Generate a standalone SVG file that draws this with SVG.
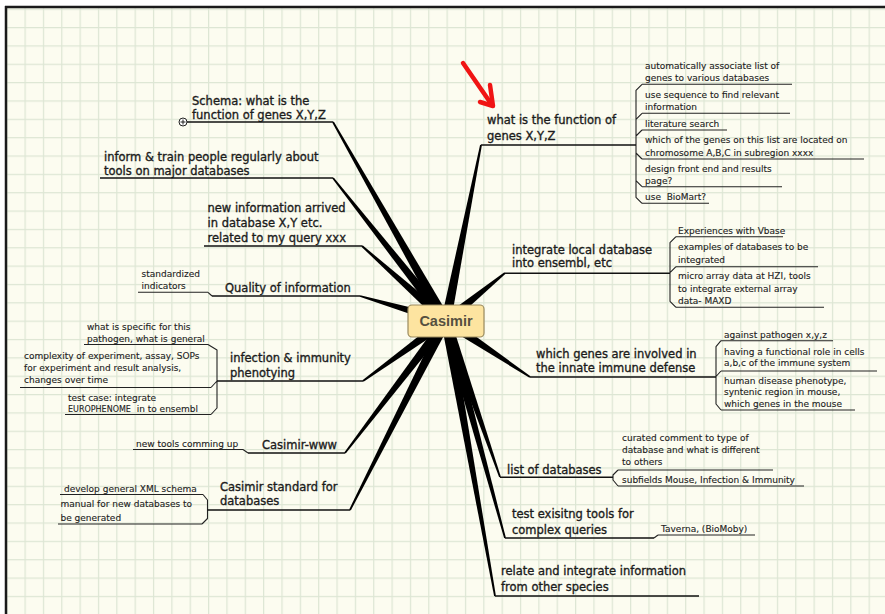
<svg xmlns="http://www.w3.org/2000/svg" width="885" height="614" viewBox="0 0 885 614">
<defs>
<pattern id="grid" patternUnits="userSpaceOnUse" x="24.5" y="27" width="18.35" height="18.35">
<rect x="0" y="0" width="18.35" height="18.35" fill="#fcfcf0"/>
<rect x="0" y="0" width="1.2" height="18.35" fill="#dde6d4"/>
<rect x="0" y="0" width="18.35" height="1.2" fill="#dde6d4"/>
</pattern>
<style>
.t{font-family:"DejaVu Sans",Verdana,sans-serif;font-size:11.5px;fill:#1c1c1c;stroke:#1c1c1c;stroke-width:0.35}
.s{font-family:"DejaVu Sans",Verdana,sans-serif;font-size:9px;fill:#222;stroke:#222;stroke-width:0.12}
.ul{stroke:#111;stroke-width:1.6;fill:none}
.sl{stroke:#222;stroke-width:1.1;fill:none}
.w{fill:#000}
.br{stroke:#222;stroke-width:1.1;fill:none;stroke-linejoin:round}
</style>
</defs>
<rect x="0" y="0" width="885" height="614" fill="#ffffff"/>
<rect x="6" y="7" width="879" height="607" fill="url(#grid)"/>
<line x1="5" y1="7" x2="885" y2="7" stroke="#1a1a1a" stroke-width="2.5"/>
<line x1="6" y1="6" x2="6" y2="614" stroke="#1a1a1a" stroke-width="2.5"/>

<g id="connectors">
<polygon class="w" points="450.35,318.53 333.78,121.56 332.22,122.44 441.65,323.47"/>
<polygon class="w" points="449.92,317.90 333.71,177.44 332.29,178.56 442.08,324.10"/>
<polygon class="w" points="449.33,317.27 362.60,245.33 361.40,246.67 442.67,324.73"/>
<polygon class="w" points="447.40,316.20 360.25,295.14 359.75,296.86 444.60,325.80"/>
<polygon class="w" points="443.07,316.95 362.47,380.27 363.53,381.73 448.93,325.05"/>
<polygon class="w" points="442.03,317.96 344.29,452.45 345.71,453.55 449.97,324.04"/>
<polygon class="w" points="441.54,318.74 349.20,509.59 350.80,510.41 450.46,323.26"/>
<polygon class="w" points="450.91,321.98 481.88,145.18 480.12,144.82 441.10,320.02"/>
<polygon class="w" points="449.16,324.88 505.57,273.70 504.43,272.30 442.84,317.12"/>
<polygon class="w" points="443.23,325.16 529.50,377.75 530.50,376.25 448.77,316.84"/>
<polygon class="w" points="441.28,322.64 499.15,477.29 500.85,476.71 450.72,319.36"/>
<polygon class="w" points="441.18,322.31 504.13,538.24 505.87,537.76 450.82,319.69"/>
<polygon class="w" points="441.08,321.88 494.11,596.16 495.89,595.84 450.92,320.12"/>
<path class="br" d="M642,84.3 L636,90.3 L636,197.3 L642,203.3 M636,119.3 L642,113.3 M636,136 L642,130 M636,153 L642,159 M636,180.7 L642,186.7"/>
<path class="br" d="M676,236.7 L670,242.7 L670,301.3 L676,307.3 M670,272.7 L676,266.7"/>
<path class="br" d="M721,340.7 L716,346.7 L716,404 L721,410 M716,376.5 L721,371"/>
<path class="br" d="M618,470 L613,475 L613,480 L618,486"/>
<path class="br" d="M208,344.5 L217,350 L217,408 L211,414.5 M211,387.5 L217,381"/>
<path class="br" d="M203,494.5 L207.5,500 L207.5,518.5 L202,524"/>
<path class="br" d="M208,292.3 L212,296"/>
<path class="br" d="M243,449.5 L248,453"/>
<path class="br" d="M654,538 L658,535"/>
</g>

<g id="arrow" stroke="#f01414" stroke-width="4.5" stroke-linecap="round" stroke-linejoin="round" fill="none">
<path d="M463,63 L492,105"/>
<path d="M490,85 L493,106 L480,102"/>
</g>

<g id="center">
<rect x="408" y="305" width="76" height="32" rx="4" fill="#fde4a0" stroke="#9a8a5e" stroke-width="1.2"/>
<text x="446" y="326" text-anchor="middle" font-family="'Liberation Sans',Arial,sans-serif" font-weight="bold" font-size="14.5" fill="#55503f">Casimir</text>
</g>

<g id="n-schema">
<text class="t" x="192" y="104.5">Schema: what is the</text>
<text class="t" x="192" y="118.5">function of genes X,Y,Z</text>
<line class="ul" x1="187" y1="122" x2="333" y2="122"/>
<circle cx="183" cy="122" r="4" fill="#fff" stroke="#222" stroke-width="1"/>
<path d="M180.5,122 H185.5 M183,119.5 V124.5" stroke="#222" stroke-width="1"/>
</g>

<g id="n-inform">
<text class="t" x="104" y="161">inform &amp; train people regularly about</text>
<text class="t" x="104" y="174.5">tools on major databases</text>
<line class="ul" x1="100" y1="178" x2="333" y2="178"/>
</g>

<g id="n-newinfo">
<text class="t" x="207.5" y="211.5">new information arrived</text>
<text class="t" x="207.5" y="226.5">in database X,Y etc.</text>
<text class="t" x="207.5" y="241.5">related to my query xxx</text>
<line class="ul" x1="204" y1="246" x2="362" y2="246"/>
</g>

<g id="n-quality">
<text class="t" x="225" y="291.5">Quality of information</text>
<line class="ul" x1="212" y1="296" x2="360" y2="296"/>
</g>
<g id="n-standardized">
<text class="s" x="141.5" y="277">standardized</text>
<text class="s" x="141.5" y="289">indicators</text>
<line class="sl" x1="138" y1="292.3" x2="208" y2="292.3"/>
</g>

<g id="n-infection">
<text class="t" x="230" y="362">infection &amp; immunity</text>
<text class="t" x="230" y="377">phenotying</text>
<line class="ul" x1="217" y1="381" x2="363" y2="381"/>
</g>
<g id="n-specific">
<text class="s" x="87" y="330">what is specific for this</text>
<text class="s" x="87" y="342">pathogen, what is general</text>
<line class="sl" x1="84" y1="344.5" x2="208" y2="344.5"/>
</g>
<g id="n-complexity">
<text class="s" x="24" y="359">complexity of experiment, assay, SOPs</text>
<text class="s" x="24" y="371">for experiment and result analysis,</text>
<text class="s" x="24" y="383">changes over time</text>
<line class="sl" x1="20" y1="387.5" x2="211" y2="387.5"/>
</g>
<g id="n-testcase">
<text class="s" x="68" y="400.5">test case: integrate</text>
<text class="s" x="68" y="412" style="white-space:pre"><tspan font-size="8">EUROPHENOME</tspan>  in to ensembl</text>
<line class="sl" x1="65" y1="414.5" x2="211" y2="414.5"/>
</g>

<g id="n-www">
<text class="t" x="262" y="448.5">Casimir-www</text>
<line class="ul" x1="248" y1="453" x2="345" y2="453"/>
</g>
<g id="n-newtools">
<text class="s" x="136" y="446.5">new tools comming up</text>
<line class="sl" x1="133" y1="449.5" x2="243" y2="449.5"/>
</g>

<g id="n-standard">
<text class="t" x="220" y="490.5">Casimir standard for</text>
<text class="t" x="220" y="505">databases</text>
<line class="ul" x1="207.5" y1="510" x2="350" y2="510"/>
</g>
<g id="n-xml">
<text class="s" x="64" y="491.5">develop general XML schema</text>
<line class="sl" x1="60" y1="494.5" x2="203" y2="494.5"/>
</g>
<g id="n-manual">
<text class="s" x="60.5" y="506.5">manual for new databases to</text>
<text class="s" x="60.5" y="520.5">be generated</text>
<line class="sl" x1="58" y1="524" x2="202" y2="524"/>
</g>

<g id="n-function">
<text class="t" x="487" y="124">what is the function of</text>
<text class="t" x="487" y="139.5">genes X,Y,Z</text>
<line class="ul" x1="481" y1="145" x2="636" y2="145"/>
</g>
<g id="n-auto">
<text class="s" x="645" y="69">automatically associate list of</text>
<text class="s" x="645" y="81.3">genes to various databases</text>
<line class="sl" x1="642" y1="84.3" x2="792" y2="84.3"/>
</g>
<g id="n-useseq">
<text class="s" x="645" y="97.7">use sequence to find relevant</text>
<text class="s" x="645" y="110">information</text>
<line class="sl" x1="642" y1="113.3" x2="790" y2="113.3"/>
</g>
<g id="n-lit">
<text class="s" x="645" y="126.5">literature search</text>
<line class="sl" x1="642" y1="130" x2="727" y2="130"/>
</g>
<g id="n-chrom">
<text class="s" x="645" y="143">which of the genes on this list are located on</text>
<text class="s" x="645" y="156">chromosome A,B,C in subregion xxxx</text>
<line class="sl" x1="642" y1="159" x2="864" y2="159"/>
</g>
<g id="n-design">
<text class="s" x="645" y="171.5">design front end and results</text>
<text class="s" x="645" y="183.5">page?</text>
<line class="sl" x1="642" y1="186.7" x2="782" y2="186.7"/>
</g>
<g id="n-biomart">
<text class="s" x="645" y="200" style="white-space:pre">use  BioMart?</text>
<line class="sl" x1="642" y1="203.3" x2="709" y2="203.3"/>
</g>

<g id="n-integrate">
<text class="t" x="512" y="253.5">integrate local database</text>
<text class="t" x="512" y="267">into ensembl, etc</text>
<line class="ul" x1="505" y1="273.3" x2="670" y2="273.3"/>
</g>
<g id="n-vbase">
<text class="s" x="678" y="234">Experiences with Vbase</text>
<line class="sl" x1="676" y1="236.7" x2="783" y2="236.7"/>
</g>
<g id="n-examples">
<text class="s" x="678" y="250">examples of databases to be</text>
<text class="s" x="678" y="262.7">integrated</text>
<line class="sl" x1="676" y1="266.7" x2="818" y2="266.7"/>
</g>
<g id="n-micro">
<text class="s" x="678" y="279.3">micro array data at HZI, tools</text>
<text class="s" x="678" y="291.5">to integrate external array</text>
<text class="s" x="678" y="303.5">data- MAXD</text>
<line class="sl" x1="676" y1="307.3" x2="824" y2="307.3"/>
</g>

<g id="n-genes">
<text class="t" x="536" y="357.5">which genes are involved in</text>
<text class="t" x="536" y="372">the innate immune defense</text>
<line class="ul" x1="530" y1="377" x2="716" y2="377"/>
</g>
<g id="n-pathogen">
<text class="s" x="724" y="337.5">against pathogen x,y,z</text>
<line class="sl" x1="721" y1="340.7" x2="833" y2="340.7"/>
</g>
<g id="n-cells">
<text class="s" x="724" y="354.5">having a functional role in cells</text>
<text class="s" x="724" y="366.3">a,b,c of the immune system</text>
<line class="sl" x1="721" y1="371" x2="877" y2="371"/>
</g>
<g id="n-human">
<text class="s" x="724" y="384">human disease phenotype,</text>
<text class="s" x="724" y="395.3">syntenic region in mouse,</text>
<text class="s" x="724" y="407">which genes in the mouse</text>
<line class="sl" x1="721" y1="410" x2="855" y2="410"/>
</g>

<g id="n-list">
<text class="t" x="507" y="473.5">list of databases</text>
<line class="ul" x1="500" y1="477.3" x2="613" y2="477.3"/>
</g>
<g id="n-curated">
<text class="s" x="622" y="440.7">curated comment to type of</text>
<text class="s" x="622" y="452.7">database and what is different</text>
<text class="s" x="622" y="464.5">to others</text>
<line class="sl" x1="618" y1="470" x2="773" y2="470"/>
</g>
<g id="n-subfields">
<text class="s" x="622" y="482.7">subfields Mouse, Infection &amp; Immunity</text>
<line class="sl" x1="618" y1="486" x2="804" y2="486"/>
</g>

<g id="n-test">
<text class="t" x="512" y="517.5">test exisitng tools for</text>
<text class="t" x="512" y="533.5">complex queries</text>
<line class="ul" x1="505" y1="538" x2="654" y2="538"/>
</g>
<g id="n-taverna">
<text class="s" x="661" y="532.3">Taverna, (BioMoby)</text>
<line class="sl" x1="658" y1="535" x2="755" y2="535"/>
</g>

<g id="n-relate">
<text class="t" x="501" y="575">relate and integrate information</text>
<text class="t" x="501" y="591">from other species</text>
<line class="ul" x1="495" y1="596" x2="699" y2="596"/>
</g>
</svg>
